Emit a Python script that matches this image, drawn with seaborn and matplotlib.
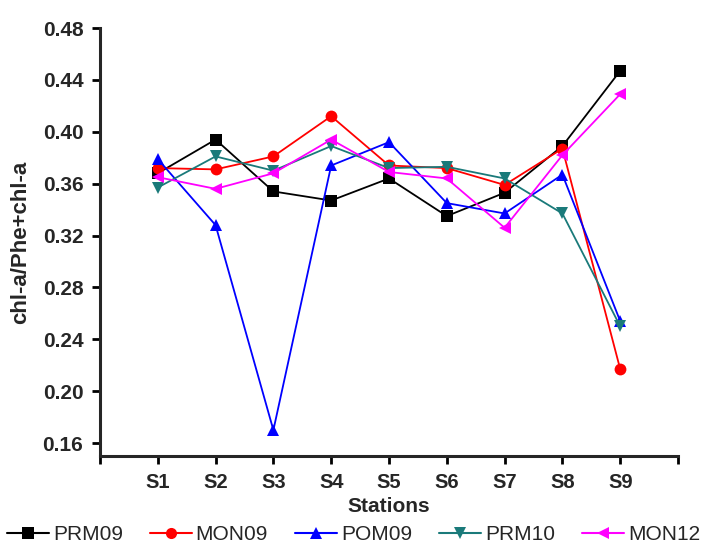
import matplotlib
matplotlib.use("Agg")
import matplotlib.pyplot as plt
import pandas as pd
import seaborn as sns

# data
stations = ["S1", "S2", "S3", "S4", "S5", "S6", "S7", "S8", "S9"]
prm09 = [0.368, 0.394, 0.354, 0.347, 0.364, 0.335, 0.353, 0.389, 0.447]
mon09 = [0.372, 0.371, 0.381, 0.412, 0.374, 0.372, 0.359, 0.387, 0.217]
pom09 = [0.379, 0.328, 0.170, 0.374, 0.392, 0.345, 0.337, 0.367, 0.254]
prm10 = [0.357, 0.381, 0.370, 0.389, 0.372, 0.373, 0.364, 0.337, 0.250]
mon12 = [0.365, 0.356, 0.368, 0.394, 0.369, 0.364, 0.326, 0.382, 0.429]

series = {"PRM09": prm09, "MON09": mon09, "POM09": pom09, "PRM10": prm10, "MON12": mon12}
colors = {"PRM09": "black", "MON09": "#ff0000", "POM09": "#0000ff", "PRM10": "#1a7a7a", "MON12": "#ff00ff"}
markers = {"PRM09": "s", "MON09": "o", "POM09": "^", "PRM10": "v", "MON12": "<"}

rows = []
for name, vals in series.items():
    for i, v in enumerate(vals):
        rows.append({"pos": i + 1, "value": v, "series": name})
df = pd.DataFrame(rows)

sns.set_style("ticks")
plt.rcParams["font.family"] = ["Liberation Sans", "DejaVu Sans"]

fig = plt.figure(figsize=(7.07, 5.57), dpi=100)
ax = fig.add_axes([0.1414, 0.1813, 0.8176, 0.7684])

sns.lineplot(data=df, x="pos", y="value", hue="series", style="series",
             palette=colors, markers=markers, dashes=False, markersize=8.5,
             markeredgewidth=0, linewidth=1.3, ax=ax, legend=False)

ax.set_xlim(0, 10)
ax.set_ylim(0.15, 0.48)
ax.set_xticks(range(0, 11))
ax.set_xticklabels([""] + stations + [""], fontsize=14.5, fontweight="bold")
yt = [0.16, 0.20, 0.24, 0.28, 0.32, 0.36, 0.40, 0.44, 0.48]
ax.set_yticks(yt)
ax.set_yticklabels(["%.2f" % t for t in yt], fontsize=15, fontweight="bold")
ax.set_xlabel("Stations", fontsize=15, fontweight="bold", labelpad=4)
ax.set_ylabel("chl-a/Phe+chl-a", fontsize=16, fontweight="bold", labelpad=8)
sns.despine(ax=ax)
for s in ["left", "bottom"]:
    ax.spines[s].set_linewidth(2.2)
ax.tick_params(width=2, length=6, color="black", pad=6)

handles = []
for name in series:
    h, = ax.plot([], [], color=colors[name], marker=markers[name], markersize=8,
                 markeredgewidth=0, linewidth=1.5, label=name)
    handles.append(h)
fig.legend(handles=handles, loc="lower center", bbox_to_anchor=(0.5, -0.01), ncol=5,
           frameon=False, handlelength=2.0, handletextpad=0.2, columnspacing=1.3,
           prop={"size": 15})

fig.savefig("out.png", dpi=100)
